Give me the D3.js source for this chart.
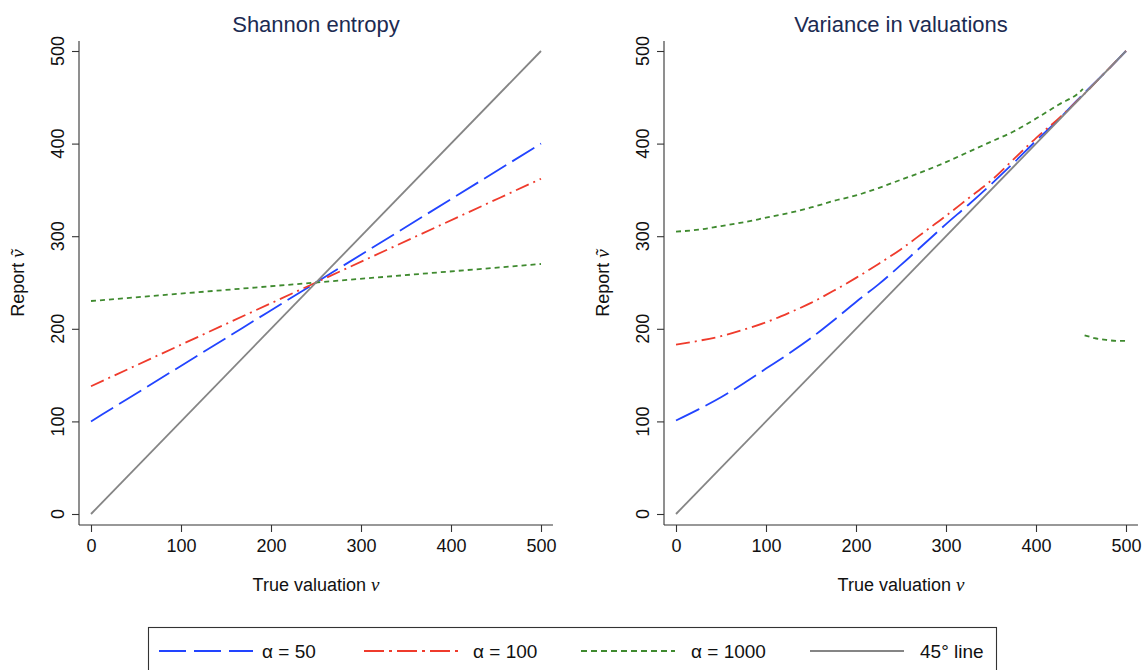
<!DOCTYPE html>
<html><head><meta charset="utf-8">
<script src="https://cdn.jsdelivr.net/npm/d3@7"></script>
<style>
body{margin:0;background:#fff;}
svg{display:block;font-family:"Liberation Sans",Arial,Helvetica,sans-serif;}
</style>
</head><body><svg id="c" width="1145" height="670"></svg>
<script>
// ---------- data ----------
const xTicks = [0, 100, 200, 300, 400, 500];
const yTicks = [0, 100, 200, 300, 400, 500];
const panelTitles = ["Shannon entropy", "Variance in valuations"];
const seriesNames = ["α = 50", "α = 100", "α = 1000", "45° line"];

// Left panel (Shannon entropy)
const leftV      = [0, 250, 500];
const left50     = [100, 250, 400];
const left100    = [138, 250, 362];
const left1000   = [230, 250, 270];
const diagV      = [0, 500];
const diagR      = [0, 500];

// Right panel (Variance in valuations)
const rightV     = [0, 25, 50, 75, 100, 125, 150, 175, 200, 225, 250, 275, 300, 325, 350, 375, 400, 425, 450, 475, 500];
const right50    = [101, 113, 126, 141, 157, 173, 190, 209, 229, 248, 269, 291, 313, 334, 356, 379, 403, 426, 451, 475, 500];
const right100   = [183, 187, 192, 199, 207, 217, 228, 241, 255, 270, 286, 304, 322, 341, 360, 383, 406, 427, 450, 475, 500];
const right1000V = [0, 25, 50, 75, 100, 125, 150, 175, 200, 225, 250, 275, 300, 325, 350, 375, 400, 425, 450, 452, 453, 454, 465, 478, 490, 500];
const right1000  = [305, 307, 311, 315, 320, 325, 331, 338, 344, 352, 361, 370, 380, 391, 402, 413, 427, 442, 457, 459, null, 193, 190, 188, 187, 187];

// ---------- styles ----------
const colors = ["#2244ff", "#ef3b2c", "#3f8a2f", "#858585"];
const dashes = ["26,7", "14,5,2,5", "5,4", null];
const legendDashes = ["27,8", "20,5,3,5", "6,4", null];
const titleColor = "#1c2b52";

const svg = d3.select("#c");

function zip(vs, rs) { return vs.map((v, i) => ({v: v, r: rs[i]})); }

const panels = [
  { title: panelTitles[0], x0: 91, axisX: 79,
    series: [zip(leftV, left50), zip(leftV, left100), zip(leftV, left1000), zip(diagV, diagR)] },
  { title: panelTitles[1], x0: 676, axisX: 664,
    series: [zip(rightV, right50), zip(rightV, right100), zip(right1000V, right1000), zip(diagV, diagR)] }
];

const y = d3.scaleLinear().domain([0, 500]).range([514, 51]);
const axisY = 525;

panels.forEach(p => {
  const x = d3.scaleLinear().domain([0, 500]).range([p.x0, p.x0 + 450]);
  const g = svg.append("g");
  const cx = (x(0) + x(500)) / 2;

  // title
  g.append("text").attr("x", cx).attr("y", 32).attr("text-anchor", "middle")
    .attr("font-size", 22).attr("fill", titleColor).text(p.title);

  // x axis
  const xa = g.append("g").attr("transform", `translate(0,${axisY})`)
    .call(d3.axisBottom(x).tickValues(xTicks).tickSize(7).tickSizeOuter(0).tickPadding(7));
  xa.select(".domain").remove();
  xa.selectAll(".tick line").attr("stroke", "#333").attr("stroke-width", 1.1);
  xa.selectAll(".tick text").attr("font-size", 18).attr("fill", "#111")
    .attr("font-family", '"Liberation Sans",Arial,sans-serif');
  g.append("line").attr("x1", p.axisX).attr("x2", x(513.3)).attr("y1", axisY).attr("y2", axisY)
    .attr("stroke", "#333").attr("stroke-width", 1.1);

  // y axis
  const ya = g.append("g").attr("transform", `translate(${p.axisX},0)`)
    .call(d3.axisLeft(y).tickValues(yTicks).tickSize(7).tickSizeOuter(0));
  ya.select(".domain").remove();
  ya.selectAll(".tick line").attr("stroke", "#333").attr("stroke-width", 1.1);
  ya.selectAll(".tick text").remove();
  g.append("line").attr("x1", p.axisX).attr("x2", p.axisX).attr("y1", axisY).attr("y2", y(510.8))
    .attr("stroke", "#333").attr("stroke-width", 1.1);
  yTicks.forEach(t => {
    const lx = p.axisX - 15, ly = y(t);
    g.append("text").attr("x", lx).attr("y", ly).attr("text-anchor", "middle")
      .attr("transform", `rotate(-90,${lx},${ly})`)
      .attr("font-size", 18).attr("fill", "#111").text(t);
  });

  // axis titles
  const xt = g.append("text").attr("x", cx).attr("y", 591).attr("text-anchor", "middle")
    .attr("font-size", 18).attr("fill", "#111");
  xt.append("tspan").text("True valuation ");
  xt.append("tspan").attr("font-family", '"Liberation Serif","DejaVu Serif",serif')
    .attr("font-style", "italic").attr("font-size", 19).text("v");

  const tx = p.axisX - 55, ty = 283;
  const yt = g.append("text").attr("x", tx).attr("y", ty).attr("text-anchor", "middle")
    .attr("transform", `rotate(-90,${tx},${ty})`).attr("font-size", 18).attr("fill", "#111");
  yt.append("tspan").text("Report ");
  yt.append("tspan").attr("font-family", '"Liberation Serif","DejaVu Serif",serif')
    .attr("font-style", "italic").attr("font-size", 19).text("ṽ");

  // lines
  const line = d3.line().defined(d => d.r != null).x(d => x(d.v)).y(d => y(d.r))
    .curve(d3.curveMonotoneX);
  p.series.forEach((s, i) => {
    g.append("path").datum(s).attr("d", line).attr("fill", "none")
      .attr("stroke", colors[i]).attr("stroke-width", 1.8)
      .attr("stroke-dasharray", dashes[i]);
  });
});

// ---------- legend ----------
const lg = svg.append("g");
lg.append("rect").attr("x", 148.5).attr("y", 627.5).attr("width", 848).attr("height", 60)
  .attr("fill", "#fff").attr("stroke", "#333").attr("stroke-width", 1.1);
const lineStarts = [159, 364, 581, 810];
const textStarts = [262, 473, 691, 920];
seriesNames.forEach((n, i) => {
  lg.append("line").attr("x1", lineStarts[i]).attr("x2", lineStarts[i] + 94)
    .attr("y1", 651).attr("y2", 651).attr("stroke", colors[i]).attr("stroke-width", 1.8)
    .attr("stroke-dasharray", legendDashes[i]);
  lg.append("text").attr("x", textStarts[i]).attr("y", 658).attr("font-size", 19)
    .attr("fill", "#111").text(n);
});
</script>
</body></html>
